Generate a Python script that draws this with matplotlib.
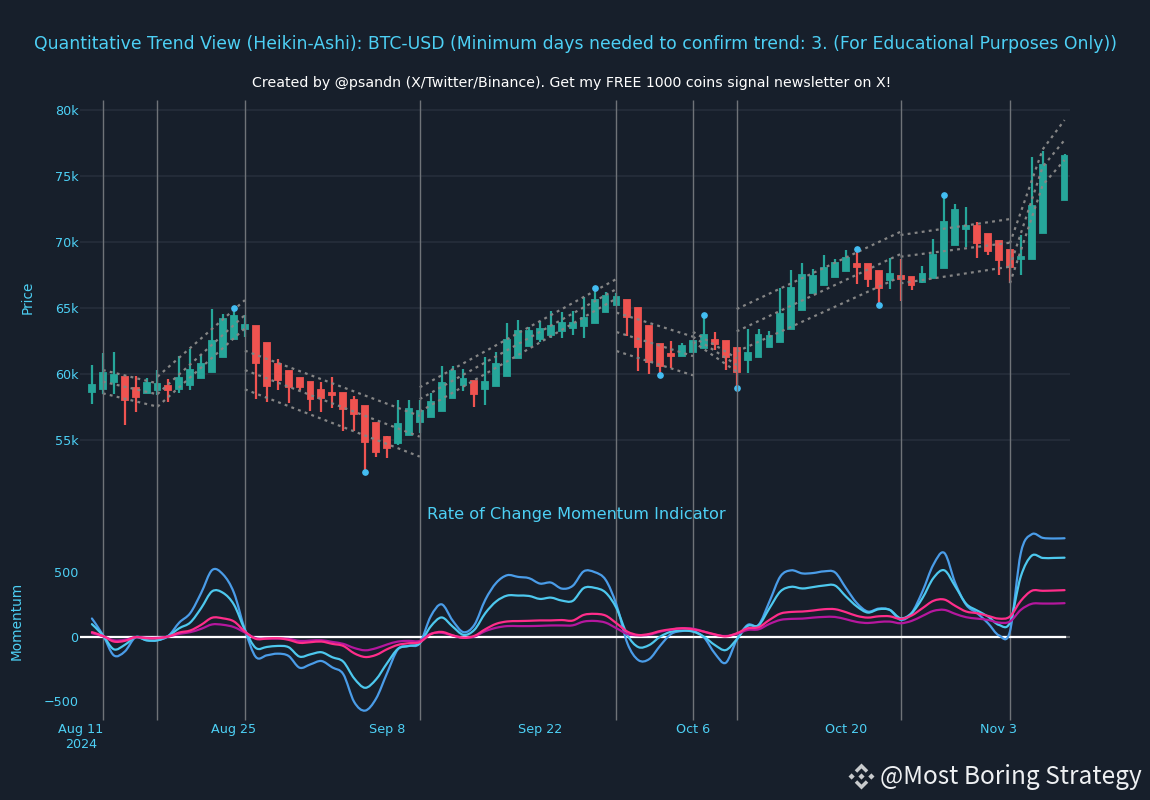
import numpy as np
import pandas as pd
import matplotlib
matplotlib.use("Agg")
import matplotlib.pyplot as plt
import matplotlib.dates as mdates
from matplotlib.path import Path
from matplotlib.patches import PathPatch, Polygon

# ---------- data ----------
dates = pd.date_range("2024-08-12", "2024-11-09", freq="D")

opens = [58660,58860,59390,59750,58915,58560,58810,59090,58860,59190,59670,60180,61260,62650,63430,
         63640,62320,60780,60200,59700,59390,58790,58560,58535,58005,57550,56260,55250,54770,55400,56400,
         56720,57220,58210,59140,59445,58890,59090,59870,61190,62150,62650,62950,63230,63480,63610,63890,64700,65250,
         65580,65000,63610,62270,61540,61390,61690,62000,62575,62475,61940,
         61035,61260,62045,62400,63410,64870,66135,66740,67350,67830,68360,68310,67800,67120,67400,67370,66990,67250,68030,69750,71010,
         71210,70630,70050,69420,68740,68740,70680,None,73180]
closes = [59170,60050,59925,58005,58280,59290,59240,58790,59700,60280,60760,62500,64170,64390,63690,
          60860,59090,59545,58990,59015,58080,58160,58385,57320,56945,54875,54115,54420,56190,57320,57200,
          57880,59290,60230,59620,58460,59420,60760,62600,63230,63280,63430,63660,63840,63860,64220,65600,65910,65800,
          64320,62045,60910,60630,61360,62100,62475,62950,62300,61310,60180,
          61590,62930,62850,64520,66490,67470,67450,68055,68410,68760,68130,67220,66540,67575,67220,66765,67575,68990,71540,72400,71210,
          69950,69340,68660,68130,68860,72730,75810,None,76510]
highs = [60680,61565,61690,59800,59850,59670,60300,59600,61390,61890,61410,64920,64520,64970,64470,
         63640,62320,61160,60200,59700,59390,59390,59800,58535,58310,57550,56260,55300,58030,58030,58030,
         58535,60630,60630,60380,59445,61260,61640,63840,64090,63535,64015,64750,64720,64800,65860,66490,66240,66110,
         65580,65000,63610,62270,62475,62350,62530,64440,63160,62475,61940,
         63380,63430,63260,66515,67880,68380,67930,68990,68690,69370,69440,68310,67800,68760,68710,67370,68205,70200,73585,72900,72650,
         71540,70630,70050,69420,70530,76460,76920,None,76640]
lows = [57700,58510,58460,56160,57120,58560,58410,57880,58590,58810,59670,60180,61260,62650,62830,
        58130,57900,58790,57780,58790,57220,57150,57450,55680,55680,52600,53740,53660,54620,55400,55560,
        56720,57220,58210,58710,57525,57650,59090,59870,61190,62150,62450,62700,62730,62950,62700,63890,64700,65250,
        62900,60200,60000,59925,60480,61390,61690,62000,61820,60300,58910,
        60050,61260,62045,62400,63410,64870,66135,66740,67350,67830,66840,66590,65200,66465,65555,66360,66870,67250,68030,69750,69595,
        68810,69040,67500,66870,67470,68740,70680,None,73180]

marker_dates = ["2024-08-25","2024-09-06","2024-09-27","2024-10-03","2024-10-07",
                "2024-10-10","2024-10-21","2024-10-23","2024-10-29"]
marker_values = [65000,52600,66490,59925,64440,58910,69440,65200,73585]

trend_dates = ["2024-08-13","2024-08-18","2024-08-26","2024-09-11","2024-09-29",
               "2024-10-06","2024-10-10","2024-10-25","2024-11-04"]

channel_dates = [["2024-08-13","2024-08-18"],["2024-08-18","2024-08-26"],["2024-08-26","2024-09-11"],
                 ["2024-09-11","2024-09-29"],["2024-09-29","2024-10-06"],["2024-10-06","2024-10-10"],
                 ["2024-10-10","2024-10-25"],["2024-10-25","2024-11-04"],["2024-11-04","2024-11-07","2024-11-09"]]
channel_upper = [[60300,59290],[59800,65600],[61770,56820],[58990,67200],[64650,62830],[63200,61190],
                 [64920,70780],[70530,71740],[69900,77020,79240]]
channel_mid = [[59420,58460],[58485,64470],[60300,55250],[58100,66440],[63180,61360],[62830,60680],
               [63230,69090],[68890,69950],[68130,75700,77725]]
channel_lower = [[58535,57525],[57525,63460],[58840,53740],[57150,65730],[61740,59900],[62450,60180],
                 [61690,67370],[66870,68130],[66870,74320,76210]]

roc_long = [140,13,-146,-117,-5,-29,-29,5,109,182,339,516,482,339,52,-159,-146,-133,-151,-242,-216,-190,
            -240,-292,-508,-575,-482,-286,-99,-73,-52,156,250,125,34,91,286,417,476,463,453,411,419,372,
            394,506,500,441,246,-53,-183,-175,-71,20,43,43,-6,-131,-204,-27,90,90,272,467,514,490,493,506,498,
            376,259,194,217,207,129,181,350,558,649,415,246,181,103,9,38,649,794,766,761,763]
roc_short = [96,10,-99,-65,-5,-29,-29,5,65,109,221,351,339,247,52,-89,-81,-73,-83,-156,-138,-122,
             -161,-195,-325,-398,-333,-208,-96,-73,-52,78,148,78,13,52,182,273,318,318,315,292,302,279,
             277,376,378,342,220,12,-82,-66,-1,38,46,38,-1,-66,-105,-22,82,87,220,350,386,373,384,396,396,
             311,233,186,212,207,142,181,298,454,514,389,254,202,155,90,108,467,628,610,610,612]
roc_signal_a = [34,5,-39,-34,-5,-13,-13,0,31,47,91,146,141,117,39,-18,-16,-13,-26,-49,-44,-39,
                -57,-73,-130,-159,-143,-99,-65,-52,-44,18,36,10,-10,5,57,99,117,120,122,125,125,128,
                124,168,176,163,103,38,12,20,43,56,64,56,38,17,1,25,64,72,129,178,191,194,202,212,212,
                189,160,147,157,157,137,163,220,277,287,238,194,181,160,139,155,277,355,355,357,360]
roc_signal_b = [26,3,-29,-26,-5,-10,-10,0,21,34,60,94,91,73,31,-13,-16,-16,-18,-34,-31,-29,
                -42,-57,-89,-107,-91,-62,-39,-34,-34,21,29,8,-10,0,42,68,81,81,81,83,86,86,
                87,116,121,108,64,20,9,14,38,53,64,61,38,14,4,20,51,56,98,129,137,139,147,152,152,
                134,113,105,113,116,103,121,160,199,207,176,150,139,129,108,116,207,254,256,256,259]

price_ticks = [55000,60000,65000,70000,75000,80000]
price_labels = ["55k","60k","65k","70k","75k","80k"]
roc_ticks = [-500,0,500]
roc_labels = ["\u2212500","0","500"]
x_ticks = ["2024-08-11","2024-08-25","2024-09-08","2024-09-22","2024-10-06","2024-10-20","2024-11-03"]
x_labels = ["Aug 11\n2024","Aug 25","Sep 8","Sep 22","Oct 6","Oct 20","Nov 3"]

title = "Quantitative Trend View (Heikin-Ashi): BTC-USD (Minimum days needed to confirm trend: 3. (For Educational Purposes Only))"
subtitle = "Created by @psandn (X/Twitter/Binance). Get my FREE 1000 coins signal newsletter on X!"
panel_title = "Rate of Change Momentum Indicator"
watermark = "@Most Boring Strategy"

# ---------- style ----------
W, H = 1150, 800
BG = "#171f2b"
CYAN = "#4dd0f5"
UP, DOWN = "#26a69a", "#ef5350"
GRID = "#232b38"
VLINE = "#6f7378"
CHANNEL = "#858585"
plt.rcParams["font.family"] = ["DejaVu Sans"]

fig = plt.figure(figsize=(W / 100, H / 100), dpi=100, facecolor=BG)


def box(left, top, right, bottom):
    return [left / W, 1 - bottom / H, (right - left) / W, (bottom - top) / H]


ax_p = fig.add_axes(box(80, 100, 1070, 480), facecolor=BG)
ax_m = fig.add_axes(box(80, 530, 1070, 720), facecolor="none")

x0 = mdates.date2num(pd.Timestamp("2024-08-11"))
x = mdates.date2num(dates)
xlim = (x0 - 0.09, x0 + 90.5)

# ---------- price panel ----------
for t in price_ticks:
    ax_p.axhline(t, color=GRID, lw=1.5, zorder=1)

o = np.array(opens, dtype=float)
c = np.array(closes, dtype=float)
h = np.array(highs, dtype=float)
l = np.array(lows, dtype=float)
up = c > o
dn = c < o
for mask, col in ((up, UP), (dn, DOWN)):
    ax_p.vlines(x[mask], l[mask], h[mask], color=col, lw=1.6, zorder=3)
    ax_p.bar(x[mask], np.abs(c - o)[mask], bottom=np.minimum(o, c)[mask], width=0.54,
             color=col, edgecolor=col, linewidth=1.3, zorder=3)

for cd, a, b, e in zip(channel_dates, channel_upper, channel_mid, channel_lower):
    xs = mdates.date2num(pd.to_datetime(cd))
    for ys in (a, b, e):
        ax_p.plot(xs, ys, color=CHANNEL, lw=1.6, ls=(0, (1.3, 1.9)), zorder=4)

ax_p.plot(mdates.date2num(pd.to_datetime(marker_dates)), marker_values, ls="none", marker="o",
          ms=3.8, mfc="#43bdf2", mec="#43bdf2", zorder=5)

ax_p.set_xlim(xlim)
ax_p.set_ylim(51970, 80760)
ax_p.set_yticks(price_ticks, price_labels)
ax_p.set_xticks([])

# ---------- momentum panel ----------


def smooth(xv, yv, color, lw, z):
    """Draw one daily series as a spline through its values."""
    pts = np.column_stack([xv, yv])
    tan = np.zeros_like(pts)
    tan[1:-1] = (pts[2:] - pts[:-2]) / 6.0
    verts = [pts[0]]
    codes = [Path.MOVETO]
    for i in range(len(pts) - 1):
        verts += [pts[i] + tan[i], pts[i + 1] - tan[i + 1], pts[i + 1]]
        codes += [Path.CURVE4] * 3
    ax_m.add_patch(PathPatch(Path(np.array(verts), codes), fc="none", ec=color, lw=lw,
                             zorder=z, capstyle="round", joinstyle="round"))


ax_m.axhline(0, color="#5e6268", lw=1.5, zorder=1)
ax_m.plot([x[0] - 1, x[-1]], [0, 0], color="white", lw=1.6, zorder=3)
smooth(x, roc_long, "#4a9ce8", 1.6, 4)
smooth(x, roc_short, "#4dc8ee", 1.6, 4.1)
smooth(x, roc_signal_b, "#b5179e", 1.6, 4.2)
smooth(x, roc_signal_a, "#ff2d8a", 1.6, 4.3)

ax_m.set_xlim(xlim)
ax_m.set_ylim(-648, 827)
ax_m.set_yticks(roc_ticks, roc_labels)
ax_m.set_xticks(mdates.date2num(pd.to_datetime(x_ticks)), x_labels)

# vertical trend-change markers run through both panels
tx = mdates.date2num(pd.to_datetime(trend_dates))
span = (720 - 100) / (720 - 530)
ax_m.vlines(tx, 0, span, transform=ax_m.get_xaxis_transform(), color=VLINE, lw=1.0,
            clip_on=False, zorder=2.5)

for ax in (ax_p, ax_m):
    for s in ax.spines.values():
        s.set_visible(False)
    ax.tick_params(length=0, colors=CYAN, labelsize=9.2, pad=1)
ax_m.tick_params(axis="x", pad=2)

# ---------- texts ----------
fig.text(575 / W, 1 - 44 / H, title, color=CYAN, fontsize=12.44, ha="center", va="center")
fig.text(572 / W, 1 - 83 / H, subtitle, color="white", fontsize=10.15, ha="center", va="center")
fig.text(576 / W, 1 - 515 / H, panel_title, color=CYAN, fontsize=11.6, ha="center", va="center")
fig.text(28 / W, 1 - 297 / H, "Price", color=CYAN, fontsize=9.8, rotation=90, ha="center", va="center")
fig.text(17 / W, 1 - 621 / H, "Momentum", color=CYAN, fontsize=9.8, rotation=90, ha="center", va="center")
fig.text(1142 / W, 1 - 777 / H, watermark, color="#eef0f2", fontsize=17.6,
         family=["Noto Sans CJK SC", "DejaVu Sans"], ha="right", va="center")

# Binance-style logo next to the watermark
LOGO = "#c9cbcd"
cx, cy, u = 861.5, 776.5, 13.0


def logo_poly(pts):
    fig.add_artist(Polygon([((cx + a * u) / W, 1 - (cy + b * u) / H) for a, b in pts],
                           closed=True, fc=LOGO, ec="none", transform=fig.transFigure))


logo_poly([(0, -1), (0.52, -0.48), (0.33, -0.29), (0, -0.62), (-0.33, -0.29), (-0.52, -0.48)])
logo_poly([(0, 1), (0.52, 0.48), (0.33, 0.29), (0, 0.62), (-0.33, 0.29), (-0.52, 0.48)])
logo_poly([(0, -0.24), (0.24, 0), (0, 0.24), (-0.24, 0)])
logo_poly([(-1, 0), (-0.76, -0.24), (-0.52, 0), (-0.76, 0.24)])
logo_poly([(1, 0), (0.76, -0.24), (0.52, 0), (0.76, 0.24)])

fig.savefig("out.png", dpi=100, facecolor=BG)
